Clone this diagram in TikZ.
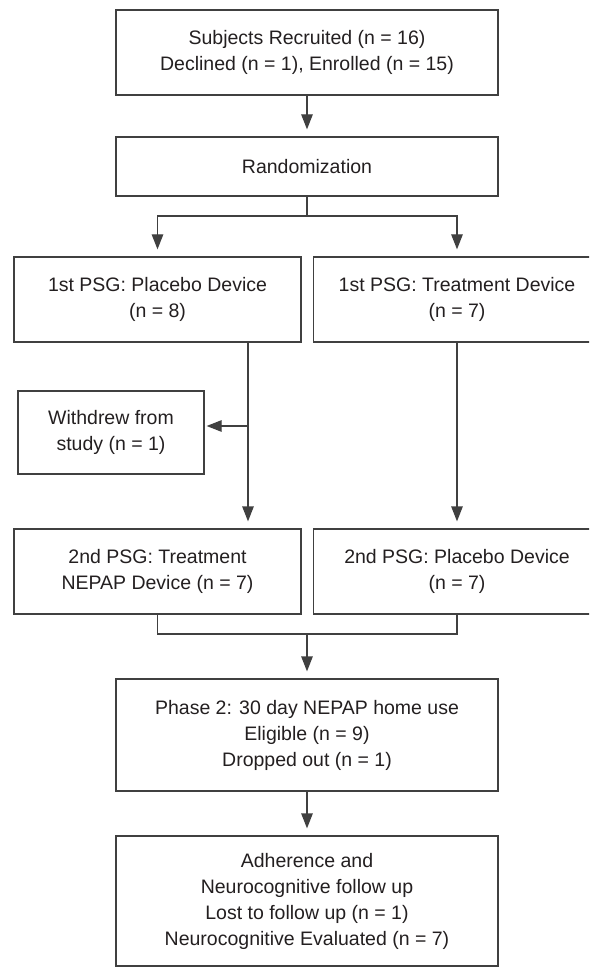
\documentclass[tikz,border=0pt]{standalone}
\usepackage{fontspec}
\setmainfont{Liberation Sans}
\usetikzlibrary{arrows.meta, positioning}
\definecolor{edge}{HTML}{404040}
\definecolor{ink}{HTML}{231F20}
\tikzset{
    box/.style={draw=edge, line width=1.3pt, text=ink, align=center, inner sep=0pt,
        font=\fontsize{19.5}{26}\selectfont},
    link/.style={draw=edge, line width=1.3pt},
    arr/.style={link, -{Triangle[length=15pt,width=11.5pt]}, shorten >=7pt}
}

\begin{document}
\begin{tikzpicture}[x=1pt, y=-1pt]
        \clip (0,0) rectangle (589,968);
        \node[box, minimum width=382pt, minimum height=85pt] (recruit) at (307,52.5) {Subjects Recruited (n = 16)\\Declined (n = 1), Enrolled (n = 15)};
        \node[box, minimum width=382pt, minimum height=59pt] (rand) at (307,166.5) {Randomization};
        \node[box, minimum width=287pt, minimum height=85pt] (plc1) at (157.5,299.5) {1st PSG: Placebo Device\\(n = 8)};
        \node[box, minimum width=287pt, minimum height=85pt] (trt1) at (457,299.5) {1st PSG: Treatment Device\\(n = 7)};
        \node[box, minimum width=186pt, minimum height=83pt] (wd) at (111,432.5) {Withdrew from\\study (n = 1)};
        \node[box, minimum width=287pt, minimum height=85pt] (trt2) at (157.5,571.5) {2nd PSG: Treatment\\NEPAP Device (n = 7)};
        \node[box, minimum width=287pt, minimum height=85pt] (plc2) at (457,571.5) {2nd PSG: Placebo Device\\(n = 7)};
        \node[box, minimum width=382pt, minimum height=112pt] (home) at (307,735) {Phase 2: 30 day NEPAP home use\\Eligible (n = 9)\\Dropped out (n = 1)};
        \node[box, minimum width=382pt, minimum height=130pt] (follow) at (307,901) {Adherence and\\Neurocognitive follow up\\Lost to follow up (n = 1)\\Neurocognitive Evaluated (n = 7)};
        \coordinate (split) at (307,216);
        \coordinate (stem) at (248,426);
        \coordinate (merge) at (307,634);
        \draw[arr] (recruit) -- (rand);
        \draw[link] (rand.south) -- (split);
        \draw[arr] (split) -| (plc1.north);
        \draw[arr] (split) -| (trt1.north);
        \draw[arr] (plc1.south -| stem) -- (trt2.north -| stem);
        \draw[arr, shorten >=2pt] (stem) -- (stem -| wd.east);
        \draw[arr] (trt1) -- (plc2);
        \draw[link] (trt2.south) |- (merge) -| (plc2.south);
        \draw[arr] (merge) -- (home);
        \draw[arr] (home) -- (follow);
    \end{tikzpicture}
\end{document}
